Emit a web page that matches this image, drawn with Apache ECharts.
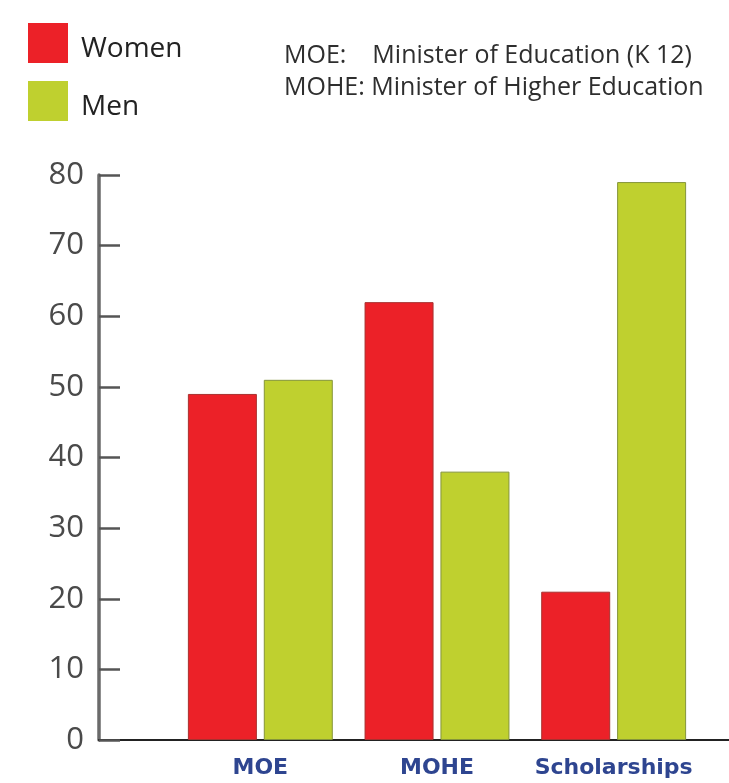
<!DOCTYPE html>
<html>
<head>
<meta charset="utf-8">
<script src="https://cdn.jsdelivr.net/npm/echarts@6/dist/echarts.min.js"></script>
<style>
html,body{margin:0;padding:0;background:#fff;}
#chart{width:729px;height:783px;}
</style>
</head>
<body>
<div id="chart"></div>
<script>
var categories = ['MOE', 'MOHE', 'Scholarships'];
var womenValues = [49, 62, 21];
var menValues = [51, 38, 79];
var yTicks = [0, 10, 20, 30, 40, 50, 60, 70, 80];
var noteLines = ['MOE:    Minister of Education (K 12)', 'MOHE: Minister of Higher Education'];

var chart = echarts.init(document.getElementById('chart'));
var yMin = yTicks[0], yMax = yTicks[yTicks.length - 1], yStep = yTicks[1] - yTicks[0];

var option = {
  animation: false,
  backgroundColor: '#ffffff',
  legend: {
    orient: 'vertical',
    left: 23,
    top: 18,
    itemWidth: 40,
    itemHeight: 40,
    itemGap: 18,
    icon: 'rect',
    itemStyle: { borderWidth: 0 },
    formatter: '{a|{name}}',
    textStyle: {
      fontFamily: 'Open Sans', fontSize: 28, color: '#222',
      rich: { a: { fontFamily: 'Open Sans', fontSize: 28, color: '#222', padding: [12, 0, 0, 8] } }
    },
    data: ['Women', 'Men']
  },
  graphic: [
    { type: 'text', left: 284, top: 43, style: { text: noteLines[0], font: '25px "Open Sans"', fill: '#2e2e2e' } },
    { type: 'text', left: 284, top: 75, style: { text: noteLines[1], font: '25px "Open Sans"', fill: '#2e2e2e' } }
  ],
  grid: [
    { left: 99, right: 0, top: 175, bottom: 43 },
    { left: 172, right: 27, top: 175, bottom: 43 }
  ],
  xAxis: [
    {
      type: 'category', gridIndex: 0, data: categories,
      axisLine: { show: true, lineStyle: { color: '#222', width: 2 } },
      axisTick: { show: false }, axisLabel: { show: false }, splitLine: { show: false }
    },
    {
      type: 'category', gridIndex: 1, data: categories,
      axisLine: { show: false }, axisTick: { show: false },
      axisLabel: {
        interval: 0, hideOverlap: false,
        color: '#2e4590', fontWeight: 'bold', fontSize: 22,
        fontFamily: 'DejaVu Sans', margin: 17
      }
    }
  ],
  yAxis: [
    {
      type: 'value', gridIndex: 0, min: yMin, max: yMax, interval: yStep,
      axisLine: { show: true, lineStyle: { color: '#6a6a6a', width: 3.5 } },
      axisTick: { show: true, inside: true, length: 21, lineStyle: { color: '#555', width: 2.5 } },
      axisLabel: { color: '#4a4a4a', fontSize: 31, fontFamily: 'Open Sans', margin: 15 },
      splitLine: { show: false }
    },
    {
      type: 'value', gridIndex: 1, min: yMin, max: yMax, interval: yStep,
      show: false, splitLine: { show: false }
    }
  ],
  series: [
    {
      name: 'Women', type: 'bar', xAxisIndex: 1, yAxisIndex: 1,
      data: womenValues, barWidth: 69, barGap: '10%',
      itemStyle: { color: '#ec2128', borderColor: '#a8312f', borderWidth: 1 }
    },
    {
      name: 'Men', type: 'bar', xAxisIndex: 1, yAxisIndex: 1,
      data: menValues, barWidth: 69, barGap: '10%',
      itemStyle: { color: '#bfd02f', borderColor: '#85953a', borderWidth: 1 }
    }
  ]
};
chart.setOption(option);
</script>
</body>
</html>
